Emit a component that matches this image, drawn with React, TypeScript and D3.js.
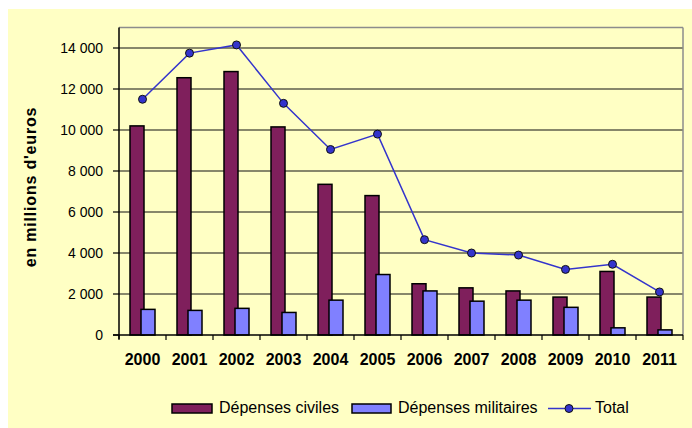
import React from "react";
import * as d3 from "d3";

// Annual spending, in millions of euros
const years = ["2000", "2001", "2002", "2003", "2004", "2005", "2006", "2007", "2008", "2009", "2010", "2011"];
const civilSpending = [10200, 12550, 12850, 10150, 7350, 6800, 2500, 2300, 2150, 1850, 3100, 1850];
const militarySpending = [1250, 1200, 1300, 1100, 1700, 2950, 2150, 1650, 1700, 1350, 350, 250];
const totalSpending = [11500, 13750, 14150, 11300, 9050, 9800, 4650, 4000, 3900, 3200, 3450, 2100];
const yTicks = [0, 2000, 4000, 6000, 8000, 10000, 12000, 14000];

const legendLabels = { civil: "Dépenses civiles", military: "Dépenses militaires", total: "Total" };

const W = 692;
const H = 428;
const plot = { left: 119, right: 683, top: 27.5, bottom: 335 };

const COLORS = {
  panel: "#FFFFC4",
  civil: "#7F1F5C",
  military: "#8080FF",
  total: "#3434CC",
  border: "#8C8C8C",
};

const fmt = (v: number) => d3.format(",")(v).replace(/,/g, " ");

export default function App() {
  const x = d3.scaleBand<string>().domain(years).range([plot.left, plot.right]).padding(0);
  const y = d3.scaleLinear().domain([0, 15000]).range([plot.bottom, plot.top]);
  const bw = x.bandwidth();
  const barW = bw * (14 / 47);
  const civilOff = bw * (11 / 47);
  const milOff = bw * (22 / 47);

  const line = d3
    .line<number>()
    .x((_, i) => (x(years[i]) as number) + bw / 2)
    .y((v) => y(v));

  const font = "Arial, 'Liberation Sans', sans-serif";
  const boundaries = d3.range(years.length + 1).map((i) => plot.left + i * bw);

  return (
    <svg
      width={W}
      height={H}
      style={{ position: "absolute", left: 0, top: 0 }}
      fontFamily={font}
    >
      <rect x={0} y={0} width={W} height={H} fill="#ffffff" />
      <rect x={8} y={9} width={W - 8} height={H - 9} fill={COLORS.panel} />

      {/* horizontal gridlines */}
      {yTicks
        .filter((t) => t > 0)
        .map((t) => (
          <line key={"g" + t} x1={plot.left} x2={plot.right} y1={y(t)} y2={y(t)} stroke="#111" strokeWidth={1.1} />
        ))}

      {/* plot frame: top and right in grey */}
      <line x1={plot.left} x2={plot.right} y1={plot.top} y2={plot.top} stroke={COLORS.border} strokeWidth={1.5} />
      <line x1={plot.right} x2={plot.right} y1={plot.top} y2={plot.bottom} stroke={COLORS.border} strokeWidth={1.5} />

      {/* bars */}
      {years.map((yr, i) => (
        <g key={yr}>
          <rect
            x={(x(yr) as number) + civilOff}
            y={y(civilSpending[i])}
            width={barW}
            height={plot.bottom - y(civilSpending[i])}
            fill={COLORS.civil}
            stroke="#000"
            strokeWidth={1.5}
          />
          <rect
            x={(x(yr) as number) + milOff}
            y={y(militarySpending[i])}
            width={barW}
            height={plot.bottom - y(militarySpending[i])}
            fill={COLORS.military}
            stroke="#000"
            strokeWidth={1.5}
          />
        </g>
      ))}

      {/* axes */}
      <line x1={plot.left} x2={plot.left} y1={plot.top} y2={plot.bottom + 4} stroke="#000" strokeWidth={1.5} />
      <line x1={plot.left - 6} x2={plot.right} y1={plot.bottom} y2={plot.bottom} stroke="#000" strokeWidth={1.5} />
      {yTicks.map((t) => (
        <g key={"t" + t}>
          <line x1={plot.left - 6} x2={plot.left} y1={y(t)} y2={y(t)} stroke="#000" strokeWidth={1.2} />
          <text x={103} y={y(t)} dy="0.36em" textAnchor="end" fontSize={14} fill="#000">
            {fmt(t)}
          </text>
        </g>
      ))}
      {boundaries.map((bx, i) => (
        <line key={"xt" + i} x1={bx} x2={bx} y1={plot.bottom} y2={plot.bottom + 5} stroke="#000" strokeWidth={1.2} />
      ))}
      {years.map((yr) => (
        <text
          key={"xl" + yr}
          x={(x(yr) as number) + bw / 2}
          y={365}
          textAnchor="middle"
          fontSize={16}
          fontWeight="bold"
          fill="#000"
        >
          {yr}
        </text>
      ))}

      {/* total line */}
      <path d={line(totalSpending) ?? ""} fill="none" stroke={COLORS.total} strokeWidth={1.5} />
      {totalSpending.map((v, i) => (
        <circle
          key={"p" + i}
          cx={(x(years[i]) as number) + bw / 2}
          cy={y(v)}
          r={4}
          fill={COLORS.total}
          stroke="#111"
          strokeWidth={1}
        />
      ))}

      {/* axis title */}
      <text
        transform={`translate(36, 187) rotate(-90)`}
        textAnchor="middle"
        fontSize={16}
        fontWeight="bold"
        letterSpacing={0.8}
        fill="#000"
      >
        en millions d'euros
      </text>

      {/* legend */}
      <g fontSize={16} fill="#000">
        <rect x={172} y={404} width={40} height={9} fill={COLORS.civil} stroke="#000" strokeWidth={1.5} />
        <text x={219} y={413}>{legendLabels.civil}</text>
        <rect x={352} y={404} width={39} height={9} fill={COLORS.military} stroke="#000" strokeWidth={1.5} />
        <text x={398} y={413}>{legendLabels.military}</text>
        <line x1={548} x2={591} y1={408.5} y2={408.5} stroke={COLORS.total} strokeWidth={1.5} />
        <circle cx={569} cy={408.5} r={4} fill={COLORS.total} stroke="#111" strokeWidth={1} />
        <text x={595} y={413}>{legendLabels.total}</text>
      </g>
    </svg>
  );
}
